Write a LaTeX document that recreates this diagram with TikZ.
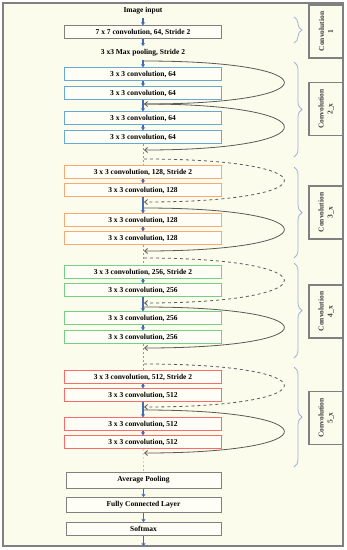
\documentclass[tikz,border=0pt]{standalone}
\usepackage{fontspec}
\setmainfont{Liberation Serif}
\usetikzlibrary{arrows.meta,decorations.pathreplacing}
\definecolor{BgClr}{rgb}{0.99,0.99,0.93}
\definecolor{FrameClr}{rgb}{0.5,0.5,0.5}
\definecolor{BlueClr}{rgb}{0.40,0.66,0.84}
\definecolor{OrangeClr}{rgb}{0.98,0.66,0.45}
\definecolor{GreenClr}{rgb}{0.45,0.82,0.52}
\definecolor{RedClr}{rgb}{0.98,0.42,0.42}
\definecolor{ArrowClr}{rgb}{0.27,0.42,0.70}
\definecolor{BraceClr}{rgb}{0.62,0.70,0.85}
\definecolor{LoopClr}{rgb}{0.35,0.35,0.35}

\begin{document}
\begin{tikzpicture}[x=1pt,y=-1pt,
  font=\fontsize{7.5}{9}\selectfont\bfseries,
  layer/.style={draw=#1,line width=1pt,fill=white!50!BgClr,minimum width=157pt,minimum height=12.5pt,inner sep=0pt},
  flow/.style={ArrowClr,line width=1.5pt,-{Stealth[length=3pt,width=4pt]}},
  skip/.style={BlueClr,thin,dash pattern=on 2pt off 2pt},
  loop/.style={LoopClr,line width=0.8pt,-{Straight Barb[length=3pt,width=5pt]}},
  group/.style={draw=FrameClr,line width=1.2pt,fill=BgClr,rotate=90,minimum width=53pt,minimum height=34pt,inner sep=0pt,align=center,text=black!75},
  brc/.style={BraceClr,line width=0.8pt,decorate,decoration={brace,amplitude=8pt}}
]
\useasboundingbox (0,0) rectangle (347,550);
\draw[FrameClr,line width=1.2pt,fill=BgClr] (3,3) rectangle (343,546);

% layers
\node (I) at (143,11) {Image input};
\node[layer=FrameClr] (C1) at (143,32) {7 x 7 convolution, 64, Stride 2};
\node (P) at (143,53) {3 x3 Max pooling, Stride 2};

\node[layer=BlueClr] (B1) at (143,74) {3 x 3 convolution, 64};
\node[layer=BlueClr] (B2) at (143,93) {3 x 3 convolution, 64};
\node[layer=BlueClr] (B3) at (143,118) {3 x 3 convolution, 64};
\node[layer=BlueClr] (B4) at (143,137) {3 x 3 convolution, 64};

\node[layer=OrangeClr] (O1) at (143,172) {3 x 3 convolution, 128, Stride 2};
\node[layer=OrangeClr] (O2) at (143,190) {3 x 3 convolution, 128};
\node[layer=OrangeClr] (O3) at (143,220) {3 x 3 convolution, 128};
\node[layer=OrangeClr] (O4) at (143,238) {3 x 3 convolution, 128};

\node[layer=GreenClr] (G1) at (143,272) {3 x 3 convolution, 256, Stride 2};
\node[layer=GreenClr] (G2) at (143,290) {3 x 3 convolution, 256};
\node[layer=GreenClr] (G3) at (143,318) {3 x 3 convolution, 256};
\node[layer=GreenClr] (G4) at (143,337) {3 x 3 convolution, 256};

\node[layer=RedClr] (R1) at (143,377) {3 x 3 convolution, 512, Stride 2};
\node[layer=RedClr] (R2) at (143,395) {3 x 3 convolution, 512};
\node[layer=RedClr] (R3) at (143,424) {3 x 3 convolution, 512};
\node[layer=RedClr] (R4) at (143,442) {3 x 3 convolution, 512};

\node[layer=FrameClr,minimum width=155pt,minimum height=16pt] (AP) at (143.5,480) {Average Pooling};
\node[layer=FrameClr,minimum width=155pt,minimum height=15pt] (FC) at (143.5,505) {Fully Connected Layer};
\node[layer=FrameClr,minimum width=155pt,minimum height=13pt] (SM) at (143.5,529) {Softmax};
\coordinate (E) at (143.5,546);

% main path
\draw[flow] (I) -- (C1);
\draw[flow] (C1) -- (P);
\draw[flow] (P) -- (B1);
\draw[flow] (B1) -- (B2);
\draw[flow] (B2) -- (B3);
\draw[flow] (B3) -- (B4);
\draw[skip] (B4) -- (O1);
\draw[flow] (O1) -- (O2);
\draw[flow] (O2) -- (O3);
\draw[flow] (O3) -- (O4);
\draw[skip] (O4) -- (G1);
\draw[flow] (G1) -- (G2);
\draw[flow] (G2) -- (G3);
\draw[flow] (G3) -- (G4);
\draw[skip] (G4) -- (R1);
\draw[flow] (R1) -- (R2);
\draw[flow] (R2) -- (R3);
\draw[flow] (R3) -- (R4);
\draw[skip] (R4) -- (AP);
\draw[flow] (AP) -- (FC);
\draw[flow] (FC) -- (SM);
\draw[flow] (SM) -- (E);

% shortcuts
\coordinate (L1a) at (144,61);  \coordinate (L1b) at (144,104);
\coordinate (L2a) at (144,104); \coordinate (L2b) at (144,150);
\coordinate (L3a) at (144,159); \coordinate (L3b) at (144,202);
\coordinate (L4a) at (144,208); \coordinate (L4b) at (144,251);
\coordinate (L5a) at (144,258); \coordinate (L5b) at (144,303);
\coordinate (L6a) at (144,307); \coordinate (L6b) at (144,348);
\coordinate (L7a) at (144,364); \coordinate (L7b) at (144,407);
\coordinate (L8a) at (144,410); \coordinate (L8b) at (144,453);

\draw[loop] (L1a) .. controls +(187,0) and +(187,0) .. (L1b);
\draw[loop] (L2a) .. controls +(187,0) and +(187,0) .. (L2b);
\draw[loop,dashed] (L3a) .. controls +(187,0) and +(187,0) .. (L3b);
\draw[loop] (L4a) .. controls +(187,0) and +(187,0) .. (L4b);
\draw[loop,dashed] (L5a) .. controls +(187,0) and +(187,0) .. (L5b);
\draw[loop] (L6a) .. controls +(187,0) and +(187,0) .. (L6b);
\draw[loop,dashed] (L7a) .. controls +(187,0) and +(187,0) .. (L7b);
\draw[loop] (L8a) .. controls +(187,0) and +(187,0) .. (L8b);

% stages
\draw[brc] (294,17) -- (294,43);
\draw[brc] (294,62) -- (294,157);
\draw[brc] (294,167) -- (294,258);
\draw[brc] (294,263) -- (294,358);
\draw[brc] (294,367) -- (294,467);

\node[group] (K1) at (326,31.5) {Convolution\\1};
\node[group] (K2) at (326,109) {Convolution\\2\_x};
\node[group] (K3) at (326,212.5) {Convolution\\3\_x};
\node[group] (K4) at (326,311.5) {Convolution\\4\_x};
\node[group] (K5) at (326,418) {Convolution\\5\_x};

\end{tikzpicture}
\end{document}
